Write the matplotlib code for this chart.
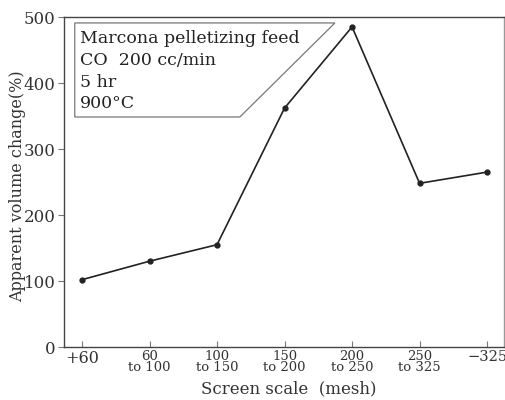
import matplotlib
matplotlib.use("Agg")
import matplotlib.pyplot as plt
from matplotlib.patches import Polygon

# screen fractions and apparent volume change
mesh_labels = ["+60", "60\nto 100", "100\nto 150", "150\nto 200",
               "200\nto 250", "250\nto 325", "\u2212325"]
volume_change = [102, 130, 155, 362, 485, 248, 265]
y_ticks = [0, 100, 200, 300, 400, 500]
note_lines = ["Marcona pelletizing feed", "CO  200 cc/min", "5 hr", "900\u00b0C"]

plt.rcParams['font.family'] = ['DejaVu Serif']

fig = plt.figure(figsize=(5.06, 4.0), dpi=100)
ax = fig.add_axes([0.126, 0.1325, 0.87, 0.825])

x = list(range(len(volume_change)))
ax.plot(x, volume_change, color='#222222', lw=1.2, marker='o', ms=3.5)

ax.set_xlim(-0.27, 6.25)
ax.set_ylim(0, 500)
ax.set_yticks(y_ticks)
ax.set_yticklabels([str(v) for v in y_ticks], fontsize=12, color='#333333')
ax.set_xticks(x)
ax.set_xticklabels(mesh_labels, fontsize=9.5, color='#333333', linespacing=0.85)
ax.get_xticklabels()[0].set_fontsize(11.5)
ax.get_xticklabels()[-1].set_fontsize(10.5)
ax.tick_params(axis='x', direction='in', length=4, pad=2, color='#777777')
ax.tick_params(axis='y', direction='out', length=4, pad=2, color='#777777')
for sp in ax.spines.values():
    sp.set_color('#444444')
    sp.set_linewidth(1.0)
ax.spines['right'].set_color('#999999')

fig.text(0.035, 0.535, "Apparent volume change(%)", fontsize=11.5, color='#333333',
         rotation=90, ha='center', va='center')
fig.text(0.57, 0.027, "Screen scale  (mesh)", fontsize=12, color='#333333',
         ha='center', va='center')

# annotation box with slanted right edge
box = Polygon([(0.025, 0.982), (0.616, 0.982), (0.40, 0.697), (0.025, 0.697)],
              closed=True, fill=False, edgecolor='#777777', lw=0.9,
              transform=ax.transAxes)
ax.add_patch(box)
for i, line in enumerate(note_lines):
    ax.text(0.036, 0.935 - i * 0.066, line, transform=ax.transAxes,
            fontsize=12.5, color='#222222', va='center', ha='left')

fig.savefig("out.png", dpi=100)
